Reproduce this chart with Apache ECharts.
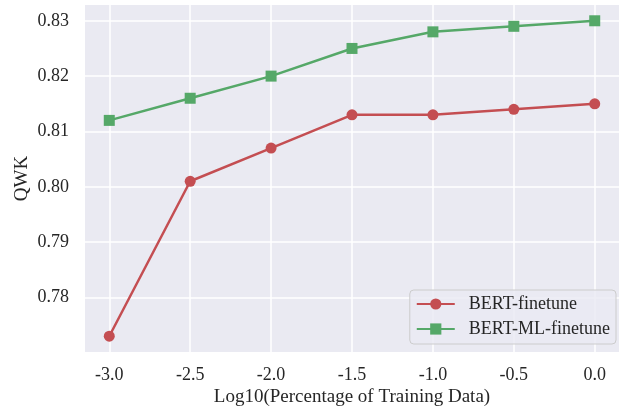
<!DOCTYPE html>
<html>
<head>
<meta charset="utf-8">
<script src="https://cdn.jsdelivr.net/npm/echarts@6/dist/echarts.min.js"></script>
<style>html,body{margin:0;padding:0;background:#fff;}#c{width:624px;height:408px;}</style>
</head>
<body>
<div id="c"></div>
<script>
const xValues = [-3.0, -2.5, -2.0, -1.5, -1.0, -0.5, 0.0];
const bertFinetune = [0.773, 0.801, 0.807, 0.813, 0.813, 0.814, 0.815];
const bertMLFinetune = [0.812, 0.816, 0.820, 0.825, 0.828, 0.829, 0.830];
const xTicks = [-3.0, -2.5, -2.0, -1.5, -1.0, -0.5, 0.0];
const yTicks = [0.78, 0.79, 0.80, 0.81, 0.82, 0.83];
const seriesNames = ['BERT-finetune', 'BERT-ML-finetune'];

const FONT = "'Liberation Serif', 'Times New Roman', serif";
const TXT = '#262626';
const chart = echarts.init(document.getElementById('c'), null, {renderer: 'canvas'});
chart.setOption({
  animation: false,
  backgroundColor: '#ffffff',
  textStyle: {fontFamily: FONT},
  grid: {left: 85, right: 5, top: 5, bottom: 56, show: true, backgroundColor: '#EAEAF2', borderWidth: 0,
    containLabel: false, outerBoundsMode: 'none'},
  xAxis: {
    type: 'value', min: -3.15, max: 0.15,
    name: 'Log10(Percentage of Training Data)', nameLocation: 'middle', nameGap: 36,
    nameMoveOverlap: false,
    nameTextStyle: {fontFamily: FONT, fontSize: 19, color: TXT},
    axisLine: {show: false}, axisTick: {show: false, customValues: xTicks},
    axisLabel: {customValues: xTicks, fontFamily: FONT, fontSize: 18, color: TXT, margin: 14,
      formatter: v => v.toFixed(1)},
    splitLine: {show: true, lineStyle: {color: '#ffffff', width: 1.5}}
  },
  yAxis: {
    type: 'value', min: 0.77015, max: 0.83285,
    name: 'QWK', nameLocation: 'middle', nameGap: 53, nameRotate: 90,
    nameMoveOverlap: false,
    nameTextStyle: {fontFamily: FONT, fontSize: 19, color: TXT},
    axisLine: {show: false}, axisTick: {show: false, customValues: yTicks},
    axisLabel: {customValues: yTicks, fontFamily: FONT, fontSize: 18, color: TXT, margin: 16,
      formatter: v => v.toFixed(2)},
    splitLine: {show: true, lineStyle: {color: '#ffffff', width: 1.5}}
  },
  legend: {
    orient: 'vertical', right: 8, bottom: 64,
    backgroundColor: 'rgba(234,234,242,0.8)', borderColor: '#cccccc', borderWidth: 1, borderRadius: 4,
    padding: [5, 6, 6, 6], itemGap: 7, itemWidth: 38, itemHeight: 14,
    textStyle: {fontFamily: FONT, fontSize: 18, color: TXT, lineHeight: 18, padding: [0, 0, 0, 9]},
    data: seriesNames
  },
  series: [
    {name: seriesNames[0], type: 'line', data: xValues.map((x, i) => [x, bertFinetune[i]]),
      symbol: 'circle', symbolSize: 11, color: '#C44E52', lineStyle: {width: 2.5}, itemStyle: {color: '#C44E52'}},
    {name: seriesNames[1], type: 'line', data: xValues.map((x, i) => [x, bertMLFinetune[i]]),
      symbol: 'rect', symbolSize: 11, color: '#55A868', lineStyle: {width: 2.5}, itemStyle: {color: '#55A868'}}
  ]
});
</script>
</body>
</html>
